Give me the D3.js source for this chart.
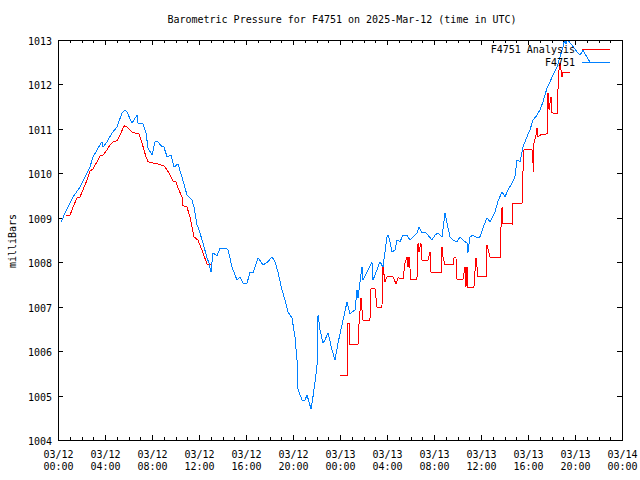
<!DOCTYPE html>
<html>
<head>
<meta charset="utf-8">
<script src="https://cdn.jsdelivr.net/npm/d3@7"></script>
<style>
  html, body { margin: 0; padding: 0; background: #fff; }
  text { font-family: "DejaVu Sans Mono", "Liberation Mono", monospace; font-size: 10px; fill: #000; }
</style>
</head>
<body>
<svg id="chart" width="640" height="480"></svg>
<script>
// ---- data (hours after 2025-03-12 00:00 UTC, pressure in mbar) ----
const stationHours = [0.26,0.60,1.28,1.87,2.30,2.72,2.98,3.57,3.74,3.83,4.17,4.60,5.02,5.45,5.70,5.87,6.30,6.72,6.81,7.23,7.49,7.66,8.00,8.26,8.51,8.77,9.02,9.28,9.62,9.87,10.21,10.55,10.98,11.40,11.57,11.83,12.00,12.34,12.68,12.85,13.02,13.19,13.53,13.79,14.21,14.47,14.81,15.23,15.49,15.74,16.09,16.34,16.60,17.02,17.45,17.87,18.21,18.47,18.72,19.06,19.32,19.57,19.91,20.17,20.34,20.43,20.77,21.02,21.19,21.36,21.53,21.70,22.04,22.13,22.30,22.55,22.72,22.98,23.32,23.57,23.83,24.26,24.60,24.85,25.28,25.45,25.53,25.87,25.96,26.30,26.72,26.81,27.15,27.40,27.66,27.83,28.00,28.09,28.26,28.43,28.68,28.85,29.11,29.36,29.70,29.96,30.21,30.55,30.72,30.98,31.23,31.49,31.83,32.09,32.34,32.68,32.94,33.11,33.36,33.62,33.96,34.21,34.47,34.81,34.89,35.06,35.32,35.66,35.91,36.17,36.51,36.77,37.19,37.45,37.79,38.04,38.30,38.64,38.89,39.06,39.32,39.57,39.91,40.17,40.43,40.77,41.02,41.28,41.62,41.87,42.13,42.47,42.72,42.98,43.15,43.23,43.32,43.57,43.74,44.17,44.43,44.68,45.28];
const stationValues = [1008.90,1009.11,1009.47,1009.69,1009.92,1010.14,1010.37,1010.64,1010.71,1010.59,1010.71,1010.91,1011.04,1011.36,1011.43,1011.38,1011.13,1011.31,1011.13,1011.11,1010.91,1010.57,1010.41,1010.71,1010.71,1010.62,1010.59,1010.37,1010.41,1010.14,1010.21,1009.92,1009.51,1009.40,1009.24,1008.84,1008.73,1008.43,1008.10,1007.98,1007.78,1008.21,1008.14,1008.32,1008.32,1008.28,1007.89,1007.60,1007.67,1007.53,1007.53,1007.78,1007.76,1008.10,1007.94,1008.01,1008.12,1008.01,1007.78,1007.38,1007.15,1006.88,1006.75,1006.32,1005.80,1005.13,1004.90,1004.90,1005.01,1004.86,1004.70,1004.97,1005.64,1006.81,1006.48,1006.18,1006.25,1006.41,1006.03,1005.80,1006.18,1006.70,1007.11,1006.84,1006.93,1007.38,1007.20,1007.89,1007.60,1007.78,1008.01,1007.60,1007.83,1008.01,1007.89,1008.23,1008.57,1008.61,1008.46,1008.23,1008.28,1008.50,1008.46,1008.61,1008.61,1008.50,1008.57,1008.66,1008.79,1008.66,1008.68,1008.61,1008.50,1008.61,1008.66,1008.57,1009.11,1008.88,1008.57,1008.50,1008.46,1008.57,1008.50,1008.43,1008.21,1008.57,1008.61,1008.55,1008.57,1008.77,1009.00,1008.91,1009.13,1009.38,1009.58,1009.47,1009.63,1009.78,1009.92,1010.30,1010.26,1010.59,1010.82,1010.98,1011.20,1011.31,1011.43,1011.61,1011.92,1012.06,1012.21,1012.39,1012.62,1012.84,1013.05,1012.91,1013.05,1012.93,1012.89,1012.73,1012.66,1012.77,1012.50];

const analysisHours = [0.68,1.02,1.28,1.62,1.87,2.13,2.47,2.72,2.98,3.32,3.57,3.83,4.17,4.43,4.68,5.02,5.28,5.62,5.87,6.30,6.72,6.89,7.15,7.49,7.66,8.09,8.51,9.02,9.28,9.53,9.79,10.04,10.21,10.55,10.64,10.98,11.23,11.57,11.91,12.34,12.68,13.02,
  18.0,
  24.00,24.60,24.60,24.60,24.77,24.85,25.53,25.62,25.79,25.87,25.96,26.55,26.64,26.98,27.15,27.57,27.66,27.83,28.00,28.51,28.77,28.94,29.36,29.53,29.70,29.79,29.87,30.04,30.55,30.64,30.72,30.89,30.98,31.49,31.66,31.74,32.60,32.68,32.77,32.94,33.62,33.70,33.87,33.96,34.47,34.64,34.72,34.81,34.89,35.40,35.57,35.66,35.74,36.51,36.51,36.77,37.02,37.62,37.70,37.79,37.87,38.64,38.64,39.49,39.57,39.66,40.34,40.43,40.51,40.51,40.68,40.77,40.85,41.02,41.62,41.62,41.70,41.79,41.96,42.04,42.47,42.55,42.64,42.72,42.89,42.98,43.57];
const analysisValues = [1009.06,1009.06,1009.24,1009.45,1009.47,1009.63,1009.85,1010.05,1010.10,1010.26,1010.39,1010.41,1010.53,1010.64,1010.71,1010.73,1010.86,1011.07,1011.04,1010.93,1010.89,1010.89,1010.68,1010.37,1010.26,1010.23,1010.21,1010.17,1010.08,1009.96,1009.83,1009.81,1009.67,1009.47,1009.27,1009.24,1009.02,1008.57,1008.50,1008.21,1007.96,1007.96,
  null,
  1005.46,1005.46,1006.07,1006.63,1006.63,1006.14,1006.14,1006.63,1007.20,1006.93,1006.70,1006.70,1007.40,1007.40,1006.99,1006.99,1007.89,1007.56,1007.67,1007.67,1007.51,1007.65,1007.62,1007.98,1008.12,1007.89,1008.12,1007.62,1007.62,1008.43,1008.23,1008.43,1008.05,1008.05,1008.23,1007.78,1007.76,1008.34,1008.10,1007.94,1007.94,1008.10,1008.10,1007.62,1007.62,1007.89,1007.44,1007.89,1007.44,1007.44,1008.10,1007.89,1007.67,1007.67,1008.39,1008.12,1008.10,1008.10,1008.77,1009.24,1008.88,1008.86,1009.33,1009.33,1010.01,1010.53,1010.53,1010.23,1010.03,1010.68,1010.86,1011.02,1010.82,1010.86,1010.89,1011.36,1011.81,1011.43,1011.72,1011.36,1011.34,1011.88,1012.33,1012.48,1012.17,1012.28,1012.28];

const yTicks = [1004,1005,1006,1007,1008,1009,1010,1011,1012,1013];
const xTickHours = [0,4,8,12,16,20,24,28,32,36,40,44,48];
const xMinorHours = d3.range(0, 49, 1).filter(h => h % 4 !== 0);
const seriesNames = ["F4751 Analysis", "F4751"];
const titleText = "Barometric Pressure for F4751 on 2025-Mar-12 (time in UTC)";
const yLabel = "milliBars";

// ---- layout ----
const svg = d3.select("#chart");
const pLeft = 58, pRight = 622, pTop = 40, pBottom = 440;
const t0 = Date.UTC(2025, 2, 12, 0, 0);
const toDate = h => new Date(t0 + h * 3600000);

const x = d3.scaleUtc().domain([toDate(0), toDate(48)]).range([pLeft, pRight]);
const y = d3.scaleLinear().domain([1004, 1013]).range([pBottom, pTop]);

const RED = "#ff0000", BLUE = "#0080ff";

svg.append("defs").append("clipPath").attr("id", "plotclip")
  .append("rect").attr("x", pLeft).attr("y", pTop).attr("width", pRight - pLeft).attr("height", pBottom - pTop);

// title
svg.append("text").attr("x", 342).attr("y", 23).attr("text-anchor", "middle").text(titleText);
// y label
svg.append("text").attr("transform", "translate(15.5,241) rotate(-90)").attr("text-anchor", "middle").text(yLabel);

function styleAxis(g) {
  g.select(".domain").remove();
  g.selectAll("line").attr("stroke", "#000").attr("shape-rendering", "crispEdges");
  g.selectAll("text").style("font-family", '"DejaVu Sans Mono", monospace').style("font-size", "10px");
}

// left axis (inward ticks)
svg.append("g").attr("transform", `translate(${pLeft},0)`)
  .call(d3.axisLeft(y).tickValues(yTicks).tickFormat(d3.format("d")).tickSizeInner(-5).tickSizeOuter(0).tickPadding(6))
  .call(styleAxis)
  .call(g => g.selectAll("text").attr("dy", "0.45em"));
// right axis mirror
svg.append("g").attr("transform", `translate(${pRight},0)`)
  .call(d3.axisRight(y).tickValues(yTicks).tickFormat("").tickSizeInner(-5).tickSizeOuter(0))
  .call(styleAxis);

// bottom axis major
const bottomAxis = svg.append("g").attr("transform", `translate(0,${pBottom})`)
  .call(d3.axisBottom(x).tickValues(xTickHours.map(toDate)).tickFormat("").tickSizeInner(-5).tickSizeOuter(0))
  .call(styleAxis);
const fmtDay = d3.utcFormat("%m/%d"), fmtTime = d3.utcFormat("%H:%M");
bottomAxis.selectAll(".tick").each(function(d) {
  const t = d3.select(this).append("text").attr("text-anchor", "middle").attr("fill", "#000");
  t.append("tspan").attr("x", 0).attr("y", 18).text(fmtDay(d));
  t.append("tspan").attr("x", 0).attr("y", 29.5).text(fmtTime(d));
});
// bottom minor
svg.append("g").attr("transform", `translate(0,${pBottom})`)
  .call(d3.axisBottom(x).tickValues(xMinorHours.map(toDate)).tickFormat("").tickSizeInner(-3).tickSizeOuter(0))
  .call(styleAxis);
// top major + minor
svg.append("g").attr("transform", `translate(0,${pTop})`)
  .call(d3.axisTop(x).tickValues(xTickHours.map(toDate)).tickFormat("").tickSizeInner(-5).tickSizeOuter(0))
  .call(styleAxis);
svg.append("g").attr("transform", `translate(0,${pTop})`)
  .call(d3.axisTop(x).tickValues(xMinorHours.map(toDate)).tickFormat("").tickSizeInner(-3).tickSizeOuter(0))
  .call(styleAxis);

// data lines
const station = stationHours.map((h, i) => ({ t: toDate(h), v: stationValues[i] }));
const analysis = analysisHours.map((h, i) => ({ t: toDate(h), v: analysisValues[i] }));
const line = d3.line().defined(d => d.v != null).x(d => x(d.t)).y(d => y(d.v));

const plot = svg.append("g").attr("clip-path", "url(#plotclip)");
plot.append("path").datum(analysis).attr("d", line)
  .attr("fill", "none").attr("stroke", RED).attr("stroke-width", 1).attr("shape-rendering", "crispEdges");
plot.append("path").datum(station).attr("d", line)
  .attr("fill", "none").attr("stroke", BLUE).attr("stroke-width", 1).attr("shape-rendering", "crispEdges");

// legend
const legend = svg.append("g");
[[seriesNames[0], RED, 49.5], [seriesNames[1], BLUE, 62.5]].forEach(([name, col, ly]) => {
  legend.append("text").attr("x", 575).attr("y", ly + 3.5).attr("text-anchor", "end").text(name);
  legend.append("line").attr("x1", 582).attr("x2", 610).attr("y1", ly).attr("y2", ly)
    .attr("stroke", col).attr("stroke-width", 1).attr("shape-rendering", "crispEdges");
});

// border
svg.append("rect").attr("x", pLeft).attr("y", pTop).attr("width", pRight - pLeft).attr("height", pBottom - pTop)
  .attr("fill", "none").attr("stroke", "#000").attr("stroke-width", 1).attr("shape-rendering", "crispEdges");
</script>
</body>
</html>
